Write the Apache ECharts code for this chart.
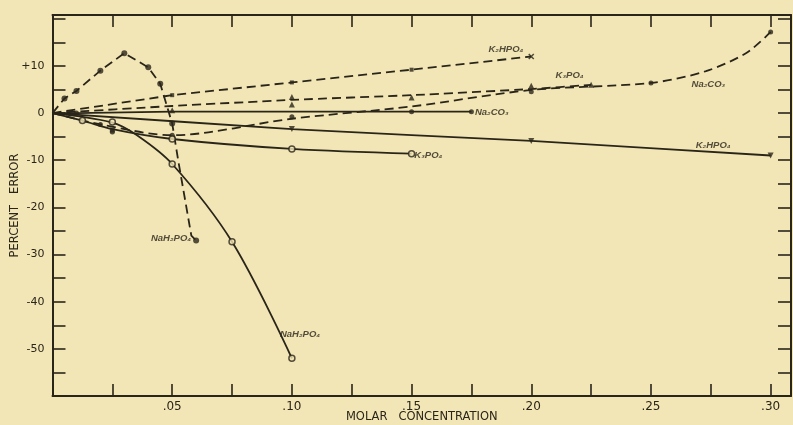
<!DOCTYPE html>
<html><head><meta charset="utf-8">
<script src="https://cdn.jsdelivr.net/npm/echarts@6/dist/echarts.min.js"></script>
<style>html,body{margin:0;padding:0;background:#f2e5b5;}#c{width:793px;height:425px;}</style>
</head><body><div id="c"></div>
<script>
// ---- data (x = molar concentration, y = percent error) ----
const xLabelValues = [0.05, 0.10, 0.15, 0.20, 0.25, 0.30];
const xLabelTexts  = ['.05', '.10', '.15', '.20', '.25', '.30'];
const yLabelValues = [10, 0, -10, -20, -30, -40, -50];
const yLabelTexts  = ['+10', '0', '-10', '-20', '-30', '-40', '-50'];

// NaH2PO4, dashed curve (filled dots)
const nah2po4DashLine = [[0,0],[0.005,3.1],[0.01,4.7],[0.02,9.0],[0.03,12.7],[0.04,9.7],[0.045,6.2],[0.05,-2.2],[0.0525,-10],[0.058,-26],[0.06,-27]];
const nah2po4DashMarks = [[0.005,3.1],[0.01,4.7],[0.02,9.0],[0.03,12.7],[0.04,9.7],[0.045,6.2],[0.05,-2.2],[0.06,-27]];
// NaH2PO4, solid curve (open circles)
const nah2po4SolidLine = [[0,0],[0.025,-2.0],[0.035,-4.6],[0.05,-10.8],[0.075,-27.3],[0.10,-52]];
const nah2po4SolidMarks = [[0.025,-1.9],[0.05,-10.8],[0.075,-27.3],[0.10,-52]];
// K2HPO4, dashed (crosses)
const k2hpo4DashLine = [[0,0],[0.05,3.8],[0.10,6.5],[0.15,9.2],[0.20,12.0]];
const k2hpo4DashMarks = [[0.05,3.8],[0.10,6.5],[0.15,9.2]];
const k2hpo4DashEnd = [[0.20,12.0]];
// K3PO4, dashed (triangles)
const k3po4DashLine = [[0,0],[0.05,1.5],[0.10,2.8],[0.15,3.8],[0.20,5.1],[0.225,6.0]];
const k3po4DashMarks = [[0.05,0.6],[0.10,3.4],[0.10,1.8],[0.15,3.3],[0.20,5.8],[0.225,6.0]];
// Na2CO3, dashed (filled dots)
const na2co3DashLine = [[0,0],[0.02,-2.4],[0.05,-4.7],[0.10,-1.2],[0.15,1.4],[0.20,4.9],[0.25,6.4],[0.273,8.9],[0.29,12.8],[0.30,17.2]];
const na2co3DashMarks = [[0.02,-2.4],[0.025,-4.0],[0.05,-4.7],[0.10,-0.8],[0.20,4.5],[0.25,6.4],[0.30,17.2]];
// Na2CO3, solid (filled dots)
const na2co3SolidLine = [[0,0],[0.01,0],[0.05,0.3],[0.10,0.3],[0.15,0.3],[0.175,0.3]];
const na2co3SolidMarks = [[0.01,0],[0.15,0.3],[0.175,0.3]];
// K2HPO4, solid (inverted triangles)
const k2hpo4SolidLine = [[0,0],[0.10,-3.4],[0.20,-5.9],[0.30,-9.0]];
const k2hpo4SolidMarks = [[0.10,-3.4],[0.20,-5.9],[0.30,-9.0]];
// K3PO4, solid (open circles / squares)
const k3po4SolidLine = [[0,0],[0.0125,-1.6],[0.025,-3.4],[0.05,-5.5],[0.10,-7.6],[0.15,-8.6]];
const k3po4SolidMarks = [[0.0125,-1.6],[0.05,-5.5],[0.10,-7.6],[0.15,-8.6]];
const k3po4SolidSquares = [[0.025,-3.6]];

// curve labels (data coordinates)
const labelTexts = ['K₂HPO₄','K₃PO₄','Na₂CO₃','Na₂CO₃','K₂HPO₄','K₃PO₄','NaH₂PO₄','NaH₂PO₄'];
const labelX = [0.1894, 0.216, 0.274, 0.1835, 0.276, 0.157, 0.0495, 0.1034];
const labelY = [13.5, 8.1, 6.0, 0.1, -6.9, -9.0, -26.6, -46.9];

// ---- rendering ----
const INK = '#2a2519', BG = '#f2e6b7';
const chart = echarts.init(document.getElementById('c'), null, {renderer:'canvas'});
const X_MIN = 0, X_MAX = 0.3085, Y_MIN = -60, Y_MAX = 20.8;
const tickFont = {color: INK, fontFamily: 'DejaVu Sans', fontSize: 11};
function xAx(pos, showLabel){
  return {type:'value', position:pos, min:X_MIN, max:X_MAX, interval:0.025,
    axisLine:{show:true, onZero:false, lineStyle:{color:INK, width:2}},
    axisTick:{show:true, inside:true, length:12, lineStyle:{color:INK, width:1.6}},
    splitLine:{show:false},
    axisLabel:{show:showLabel, margin:5, ...tickFont, fontSize:12, showMaxLabel:false,
      formatter:v=>{const i=xLabelValues.findIndex(t=>Math.abs(t-v)<1e-6);return i<0?'':xLabelTexts[i];}},
    name: showLabel ? 'MOLAR   CONCENTRATION' : '', nameLocation:'middle', nameGap:15, nameMoveOverlap:false,
    nameTextStyle:{color:INK, fontFamily:'DejaVu Sans', fontSize:11.5}};
}
function yAx(pos, showLabel){
  return {type:'value', position:pos, min:Y_MIN, max:Y_MAX, interval:5,
    axisLine:{show:true, onZero:false, lineStyle:{color:INK, width:2}},
    axisTick:{show:true, inside:true, length:13, lineStyle:{color:INK, width:1.6}},
    splitLine:{show:false},
    axisLabel:{show:showLabel, margin:8, ...tickFont, showMaxLabel:false,
      formatter:v=>{const i=yLabelValues.findIndex(t=>Math.abs(t-v)<1e-6);return i<0?'':yLabelTexts[i];}},
    name: showLabel ? 'PERCENT   ERROR' : '', nameLocation:'middle', nameGap:31, nameRotate:90, nameMoveOverlap:false,
    nameTextStyle:{color:INK, fontFamily:'DejaVu Sans', fontSize:11.5}};
}
function line(data, dashed, smooth){
  return {type:'line', data, symbol:'none', smooth: smooth||false, silent:true, z:2,
    lineStyle:{color:INK, width:1.8, type: dashed ? [9,5] : 'solid'}};
}
function marks(data, symbol, size, filled, rotate){
  return {type:'scatter', data, symbol, symbolSize:size, symbolRotate:rotate||0, silent:true, z:3,
    itemStyle: filled ? {color:INK} : {color:BG, borderColor:INK, borderWidth:1.5}};
}
const crossPath = 'path://M0,0L10,10M10,0L0,10';
const labelData = labelTexts.map((t,i)=>({value:[labelX[i], labelY[i]], name:t}));
chart.setOption({
  backgroundColor: BG,
  animation:false,
  grid:{left:52.5, right:2, top:15, bottom:29, containLabel:false, outerBoundsMode:'none'},
  xAxis:[xAx('bottom', true), xAx('top', false)],
  yAxis:[yAx('left', true), yAx('right', false)],
  series:[
    line(nah2po4DashLine, true, false),
    marks(nah2po4DashMarks, 'circle', 6, true),
    line(nah2po4SolidLine, false, 0.35),
    marks(nah2po4SolidMarks, 'circle', 6, false),
    line(k2hpo4DashLine, true, false),
    marks(k2hpo4DashMarks, 'rect', 4, true),
    {type:'scatter', data:k2hpo4DashEnd, symbol:crossPath, symbolSize:5, silent:true, z:3,
      itemStyle:{color:'none', borderColor:INK, borderWidth:1.5}},
    line(k3po4DashLine, true, 0.2),
    marks(k3po4DashMarks, 'triangle', 6, true),
    line(na2co3DashLine, true, 0.3),
    marks(na2co3DashMarks, 'circle', 5, true),
    line(na2co3SolidLine, false, false),
    marks(na2co3SolidMarks, 'circle', 5, true),
    line(k2hpo4SolidLine, false, 0.1),
    marks(k2hpo4SolidMarks, 'triangle', 6, true, 180),
    line(k3po4SolidLine, false, 0.35),
    marks(k3po4SolidMarks, 'circle', 6, false),
    marks(k3po4SolidSquares, 'rect', 5, true),
    {type:'scatter', data:labelData, symbolSize:0, silent:true, z:4,
      label:{show:true, position:'inside', formatter:p=>p.name, color:INK,
        fontFamily:'Liberation Sans', fontStyle:'italic', fontWeight:'bold', fontSize:9.5}}
  ]
});
</script></body></html>
